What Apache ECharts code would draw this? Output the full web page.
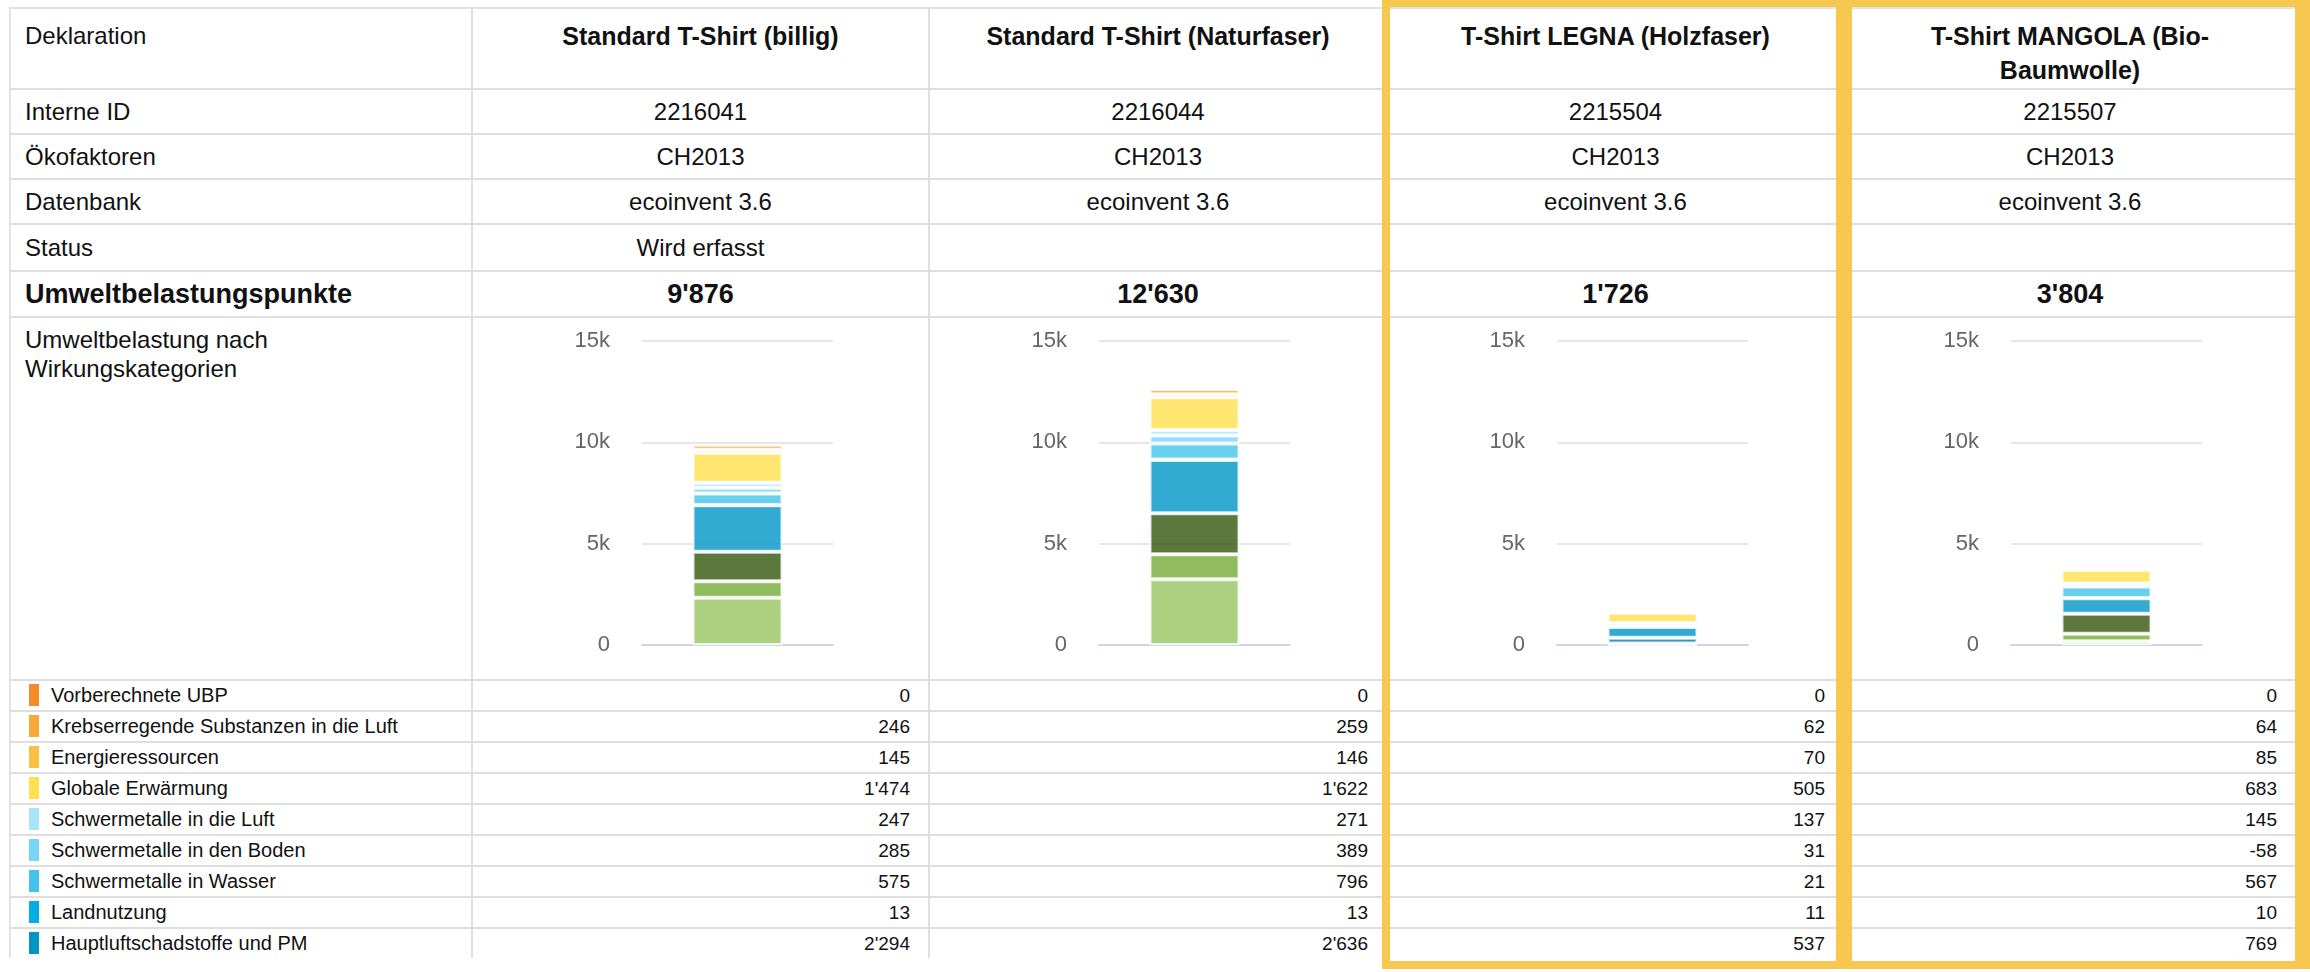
<!DOCTYPE html>
<html>
<head>
<meta charset="utf-8">
<script src="https://cdn.jsdelivr.net/npm/echarts@6.0.0/dist/echarts.min.js"></script>
<style>
  html, body { margin: 0; padding: 0; background: #fff; }
  body { width: 2310px; height: 972px; position: relative; overflow: hidden;
         font-family: "Liberation Sans", Arial, sans-serif; color: #111; }
  table { position: absolute; left: 9px; top: 7px; width: 2286px; table-layout: fixed;
          border-collapse: collapse; border: 2px solid #e2e2e2; border-bottom: none; }
  td { border-bottom: 2px solid #dedede; border-right: 2px solid #dedede; padding: 0 18px;
       font-size: 24px; text-align: center; overflow: hidden; white-space: nowrap; }
  td.lab { text-align: left; padding-left: 14px; }
  tr.head td { height: 81px; vertical-align: top; padding: 10px 26px 0; line-height: 34px;
               font-weight: bold; font-size: 25px; white-space: normal; box-sizing: border-box; }
  tr.head td.lab { font-weight: normal; font-size: 24px; padding-left: 14px; }
  tr.row td { height: 43px; }
  tr.ubp td { height: 44px; font-weight: bold; font-size: 27px; }
  tr.chartrow td { height: 354px; padding: 0; vertical-align: top; }
  tr.chartrow td.lab { padding: 7px 14px 0; font-size: 24px; line-height: 29px; }
  tr.leg td { height: 29px; font-size: 19px; text-align: right; padding-right: 18px; }
  tr.leg td.lab { text-align: left; padding-left: 18px; font-size: 20px; }
  tr.leg:last-child td { border-bottom: none; }
  .sq { display: inline-block; width: 10px; height: 22px; vertical-align: middle;
        margin-right: 12px; position: relative; top: -1px; }
  .chart { width: 100%; height: 354px; }
  .frame { position: absolute; box-sizing: border-box; border: 8px solid #f7c84f;
           pointer-events: none; }
</style>
</head>
<body>
<table id="tbl"></table>
<div class="frame" style="left:1382px; top:-1px; width:462px; height:970px;"></div>
<div class="frame" style="left:1844px; top:-1px; width:467px; height:970px; border-right-width:16px;"></div>
<script>
// products (columns)
const products = ['Standard T-Shirt (billig)', 'Standard T-Shirt (Naturfaser)', 'T-Shirt LEGNA (Holzfaser)', 'T-Shirt MANGOLA (Bio-Baumwolle)'];
const internalIds = ['2216041', '2216044', '2215504', '2215507'];
const oekofaktoren = ['CH2013', 'CH2013', 'CH2013', 'CH2013'];
const datenbank = ['ecoinvent 3.6', 'ecoinvent 3.6', 'ecoinvent 3.6', 'ecoinvent 3.6'];
const status = ['Wird erfasst', '', '', ''];
const totals = [9876, 12630, 1726, 3804];

// impact categories listed in the table (top of the stack first)
const categories = ['Vorberechnete UBP', 'Krebserregende Substanzen in die Luft', 'Energieressourcen',
  'Globale Erwärmung', 'Schwermetalle in die Luft', 'Schwermetalle in den Boden',
  'Schwermetalle in Wasser', 'Landnutzung', 'Hauptluftschadstoffe und PM'];
const categoryColors = ['#f58a2b', '#f8a93a', '#fac046', '#ffe04d', '#a6e5fa', '#78d5f5', '#44c4ec', '#00ade6', '#0095c5'];

// categories below the visible part of the table (only seen in the bars)
const hiddenCategories = ['Wasserschadstoffe', 'Pestizide in den Boden', 'Nicht radioaktive Abfälle', 'Wasserressourcen'];
const hiddenColors = ['#0a78aa', '#33560c', '#74aa37', '#95c460'];

const valuesBillig = [0, 246, 145, 1474, 247, 285, 575, 13, 2294];
const valuesNaturfaser = [0, 259, 146, 1622, 271, 389, 796, 13, 2636];
const valuesLegna = [0, 62, 70, 505, 137, 31, 21, 11, 537];
const valuesMangola = [0, 64, 85, 683, 145, -58, 567, 10, 769];
const hiddenBillig = [0, 1457, 810, 2330];
const hiddenNaturfaser = [0, 2015, 1243, 3240];
const hiddenLegna = [280, 25, 20, 27];
const hiddenMangola = [0, 979, 370, 190];

const yTicks = [0, 5000, 10000, 15000];

const values = [valuesBillig, valuesNaturfaser, valuesLegna, valuesMangola];
const hidden = [hiddenBillig, hiddenNaturfaser, hiddenLegna, hiddenMangola];

function fmt(v) {
    const s = String(Math.abs(v)).replace(/\B(?=(\d{3})+(?!\d))/g, "'");
    return (v < 0 ? '-' : '') + s;
}

// build the table
const tbl = document.getElementById('tbl');
const colWidths = [462, 457, 458, 457, 452];
let html = '<colgroup>' + colWidths.map(w => `<col style="width:${w}px">`).join('') + '</colgroup>';
html += '<tr class="head"><td class="lab">Deklaration</td>' + products.map(p => `<td>${p}</td>`).join('') + '</tr>';
html += '<tr class="row"><td class="lab">Interne ID</td>' + internalIds.map(v => `<td>${v}</td>`).join('') + '</tr>';
html += '<tr class="row"><td class="lab">Ökofaktoren</td>' + oekofaktoren.map(v => `<td>${v}</td>`).join('') + '</tr>';
html += '<tr class="row"><td class="lab">Datenbank</td>' + datenbank.map(v => `<td>${v}</td>`).join('') + '</tr>';
html += '<tr class="row" style="height:47px"><td class="lab">Status</td>' + status.map(v => `<td>${v}</td>`).join('') + '</tr>';
html += '<tr class="ubp"><td class="lab">Umweltbelastungspunkte</td>' + totals.map(v => `<td>${fmt(v)}</td>`).join('') + '</tr>';
html += '<tr class="chartrow"><td class="lab">Umweltbelastung nach<br>Wirkungskategorien</td>' +
    products.map((p, i) => `<td><div class="chart" id="chart${i}"></div></td>`).join('') + '</tr>';
categories.forEach((c, k) => {
    html += `<tr class="leg"><td class="lab"><span class="sq" style="background:${categoryColors[k]}"></span>${c}</td>` +
        values.map(v => `<td>${fmt(v[k])}</td>`).join('') + '</tr>';
});
tbl.innerHTML = html;

// stacked bar per product, bottom of stack first
function renderChart(el, i) {
    const chart = echarts.init(el, null, { renderer: 'canvas' });
    const stackNames = hiddenCategories.slice().reverse().concat(categories.slice().reverse());
    const stackColors = hiddenColors.slice().reverse().concat(categoryColors.slice().reverse());
    const stackValues = hidden[i].slice().reverse().concat(values[i].slice().reverse());
    const gridLeft = Math.round(el.clientWidth / 2 - 59);

    chart.setOption({
        animation: false,
        grid: { left: gridLeft, width: 191, top: 23, height: 304 },
        xAxis: {
            type: 'category',
            data: [products[i]],
            axisLine: { lineStyle: { color: '#ccd6eb', width: 2 } },
            axisTick: { show: false },
            axisLabel: { show: false }
        },
        yAxis: {
            type: 'value',
            min: yTicks[0],
            max: yTicks[yTicks.length - 1],
            interval: 5000,
            axisLine: { show: false },
            axisTick: { show: false },
            splitLine: { lineStyle: { color: '#e6e6e6', width: 2 } },
            axisLabel: {
                margin: 32,
                color: '#666',
                fontSize: 22,
                fontFamily: 'Liberation Sans',
                formatter: v => v === 0 ? '0' : (v / 1000) + 'k'
            }
        },
        series: stackNames.map((name, k) => ({
            name: name,
            type: 'bar',
            stack: 'ubp',
            barWidth: 90,
            data: [stackValues[k]],
            itemStyle: { color: stackColors[k], opacity: 0.8, borderColor: '#fff', borderWidth: 2 }
        }))
    });
}

products.forEach((p, i) => renderChart(document.getElementById('chart' + i), i));
</script>
</body>
</html>
